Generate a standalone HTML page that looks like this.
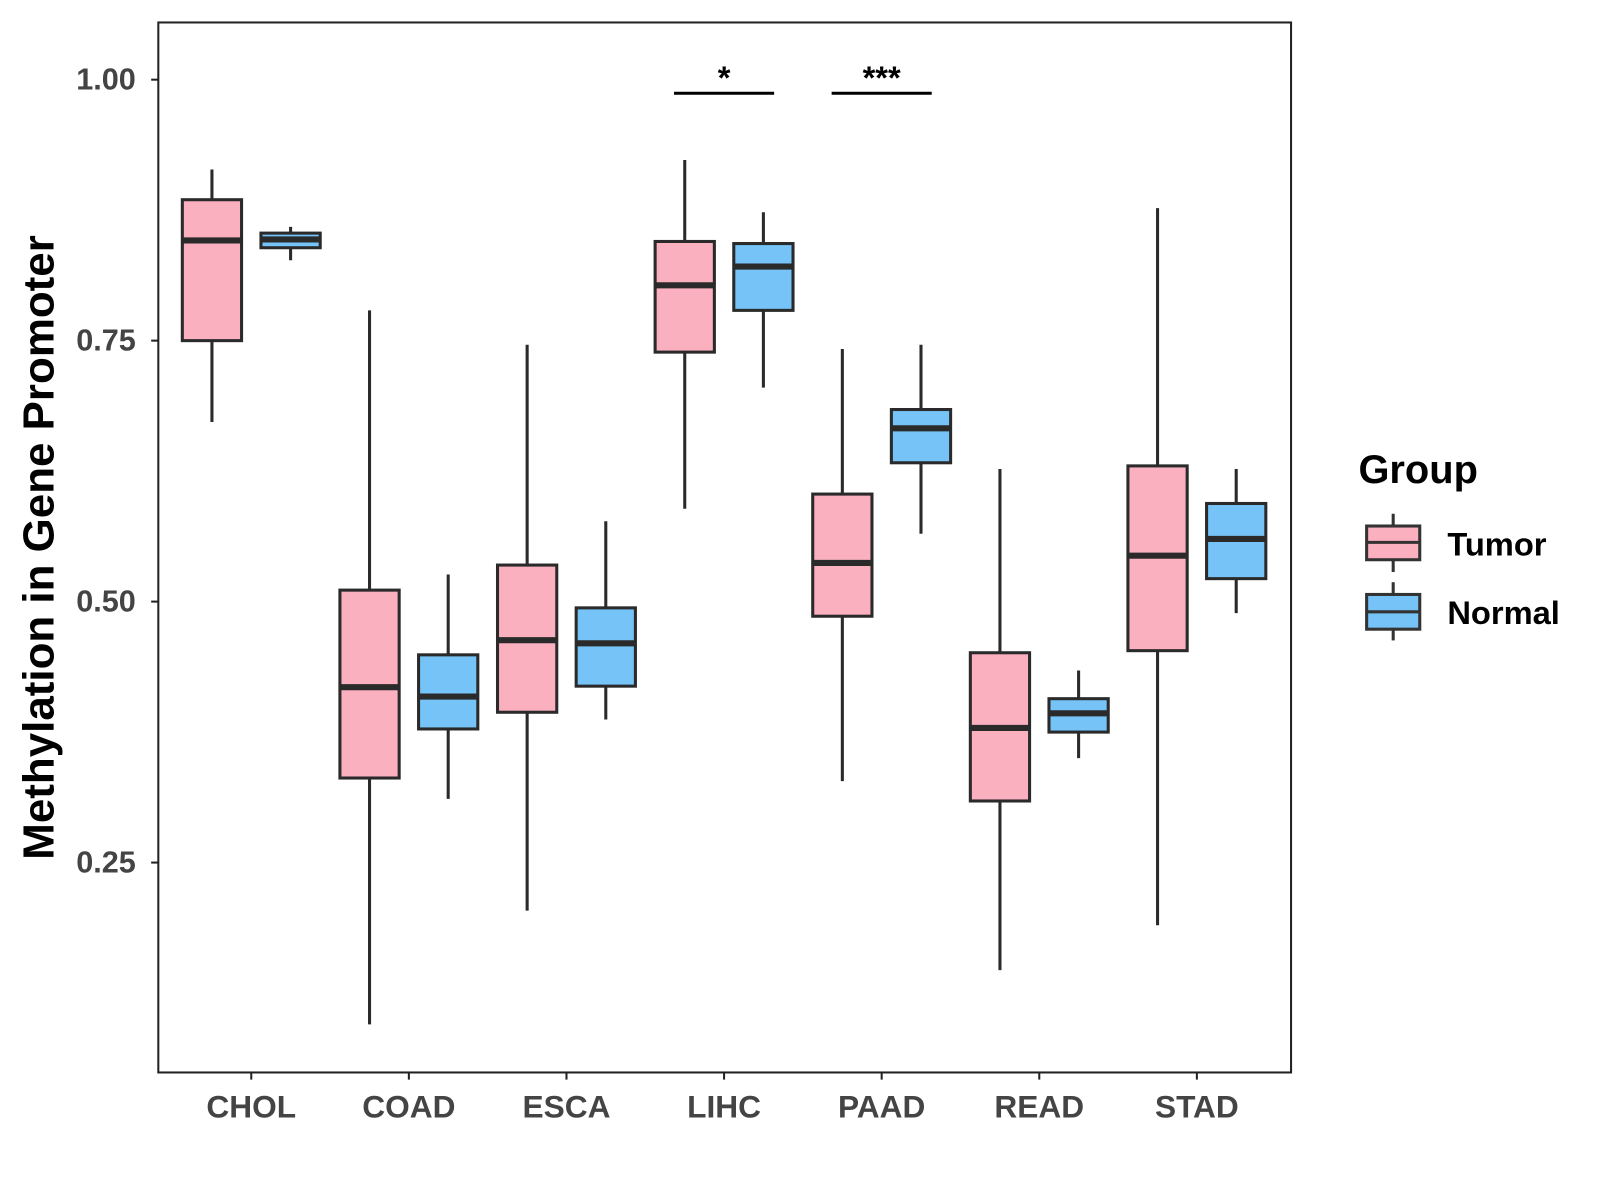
<!DOCTYPE html>
<html><head><meta charset="utf-8"><style>
html,body{margin:0;padding:0;background:#fff;}
svg{display:block;font-family:"Liberation Sans",Arial,sans-serif;}
</style></head><body>
<svg id="chart" width="1600" height="1200" viewBox="0 0 1600 1200">
<rect x="0" y="0" width="1600" height="1200" fill="#fff"/>
<g transform="scale(1.0214)">
<rect x="155" y="22" width="1109" height="1028" fill="none" stroke="#222" stroke-width="2"/>
<text x="38" y="536" transform="rotate(-90 38 536)" text-anchor="middle" dominant-baseline="central" font-size="43" font-weight="bold" fill="#000">Methylation in Gene Promoter</text>
<g id="yaxis"></g>
<g id="xaxis"></g>
<g id="boxes"></g>
<g id="sig"></g>
<g>
<text x="1330" y="473" font-size="39" font-weight="bold" fill="#000">Group</text>
<g>
<line x1="1364" y1="503" x2="1364" y2="560" stroke="#333" stroke-width="3"/>
<rect x="1338" y="515" width="52" height="33" fill="#FBB0C0" stroke="#333" stroke-width="3"/>
<line x1="1338" y1="531" x2="1390" y2="531" stroke="#333" stroke-width="3"/>
<text x="1417" y="544" font-size="32" font-weight="bold" fill="#000">Tumor</text>
</g>
<g>
<line x1="1364" y1="570" x2="1364" y2="627" stroke="#333" stroke-width="3"/>
<rect x="1338" y="582" width="52" height="34" fill="#76C3F8" stroke="#333" stroke-width="3"/>
<line x1="1338" y1="599" x2="1390" y2="599" stroke="#333" stroke-width="3"/>
<text x="1417" y="611" font-size="32" font-weight="bold" fill="#000">Normal</text>
</g>
</g>
</g>
</svg>
<script>
const categories = ["CHOL","COAD","ESCA","LIHC","PAAD","READ","STAD"];
// [whiskerLow, q1, median, q3, whiskerHigh]
const tumorStats = [
  [0.672,0.750,0.846,0.885,0.914],
  [0.095,0.331,0.418,0.511,0.779],
  [0.204,0.394,0.463,0.535,0.746],
  [0.589,0.739,0.803,0.845,0.923],
  [0.328,0.486,0.537,0.603,0.742],
  [0.147,0.309,0.379,0.451,0.627],
  [0.190,0.453,0.544,0.630,0.877]
];
const normalStats = [
  [0.827,0.839,0.847,0.853,0.859],
  [0.311,0.378,0.409,0.449,0.526],
  [0.387,0.419,0.460,0.494,0.577],
  [0.705,0.779,0.821,0.843,0.873],
  [0.565,0.633,0.666,0.684,0.746],
  [0.350,0.375,0.393,0.407,0.434],
  [0.489,0.522,0.560,0.594,0.627]
];
const yTicks = [0.25,0.50,0.75,1.00];
const yTickLabels = ["0.25","0.50","0.75","1.00"];
const sigCategories = ["LIHC","PAAD"];
const sigLabels = ["*","***"];
const sigLevel = 0.987;

const NS="http://www.w3.org/2000/svg";
function yScale(v){return 78+(1-v)*1022;}
function xScale(i){return 246+i*154.3;}
function mk(tag,attrs,parent){const e=document.createElementNS(NS,tag);for(const k in attrs)e.setAttribute(k,attrs[k]);parent.appendChild(e);return e;}

const ya=document.getElementById('yaxis');
yTicks.forEach((t,i)=>{
  const y=yScale(t);
  const tk=mk('line',{x1:148,x2:155,y1:y,y2:y,stroke:'#222','stroke-width':2},ya);
  
  
  const lb=mk('text',{x:133,y:y,'text-anchor':'end','dominant-baseline':'central','font-size':30,'font-weight':'bold',fill:'#444'},ya);
  lb.textContent=yTickLabels[i];
  
  
});
const xa=document.getElementById('xaxis');
categories.forEach((c,i)=>{
  const x=xScale(i);
  const tk=mk('line',{x1:x,x2:x,y1:1050,y2:1057,stroke:'#222','stroke-width':2},xa);
  
  
  const lb=mk('text',{x:x,y:1094,'text-anchor':'middle','font-size':31,'font-weight':'bold',fill:'#444'},xa);
  lb.textContent=c;
  
  
});
const bg=document.getElementById('boxes');
function drawBox(s,cx,fill,name){
  const g=mk('g',{},bg);
  
  
  const w=58;
  mk('line',{x1:cx,x2:cx,y1:yScale(s[4]),y2:yScale(s[0]),stroke:'#2a2a2a','stroke-width':3},g);
  mk('rect',{x:cx-w/2,y:yScale(s[3]),width:w,height:yScale(s[1])-yScale(s[3]),fill:fill,stroke:'#2a2a2a','stroke-width':3},g);
  mk('line',{x1:cx-w/2,x2:cx+w/2,y1:yScale(s[2]),y2:yScale(s[2]),stroke:'#2a2a2a','stroke-width':6},g);
}
categories.forEach((c,i)=>{
  drawBox(tumorStats[i],xScale(i)-38.5,'#FBB0C0','box-tumor-'+c.toLowerCase());
  drawBox(normalStats[i],xScale(i)+38.5,'#76C3F8','box-normal-'+c.toLowerCase());
});
const sg=document.getElementById('sig');
sigCategories.forEach((c,k)=>{
  const i=categories.indexOf(c);const x=xScale(i);const y=yScale(sigLevel);
  const l=mk('line',{x1:x-49,x2:x+49,y1:y,y2:y,stroke:'#000','stroke-width':3},sg);
  
  
  const t=mk('text',{x:x,y:y-4,'text-anchor':'middle','font-size':32,'font-weight':'bold',fill:'#000'},sg);
  t.textContent=sigLabels[k];
  
  
});
</script>
</body></html>
